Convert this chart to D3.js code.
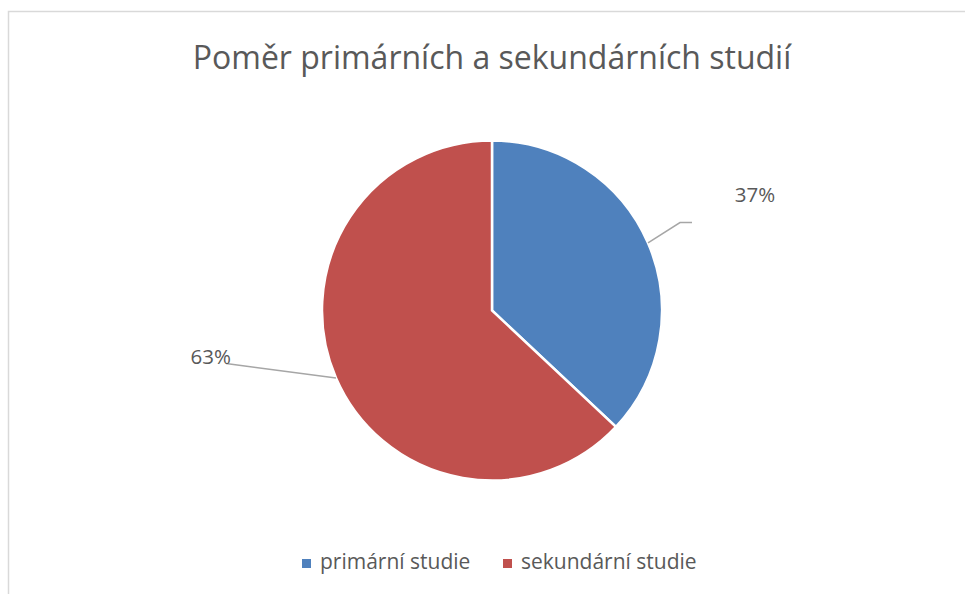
<!DOCTYPE html>
<meta charset="utf-8">
<head>
	<style>
		body { margin: 0; background: #fff; }
		text { font-family: "Open Sans", "Noto Sans", sans-serif; fill: #595959; }
		.leader { fill: none; stroke: #a6a6a6; stroke-width: 1.5; }
	</style>
	<script src="https://d3js.org/d3.v7.min.js"></script>
</head>
<body></body>
<script>

	var title = "Poměr primárních a sekundárních studií",
			categories = ["primární studie", "sekundární studie"],
			values = [37, 63],
			colors = ["#4f81bd", "#c0504d"];

	var width = 965,
			height = 594,
			cx = 492,
			cy = 310.5,
			radius = 170;

	var svg = d3.select("body").append("svg")
		.attr("width", width)
		.attr("height", height);

	// chart area frame (runs off the right and bottom edge)
	svg.append("rect")
		.attr("x", 8.5)
		.attr("y", 11.5)
		.attr("width", 1000)
		.attr("height", 700)
		.attr("fill", "#fff")
		.attr("stroke", "#d9d9d9")
		.attr("stroke-width", 1.5);

	svg.append("text")
		.attr("x", cx)
		.attr("y", 69)
		.attr("text-anchor", "middle")
		.style("font-size", "32px")
		.text(title);

	var pie = d3.pie().sort(null).value(function(d) {return d});
	var arc = d3.arc().innerRadius(0).outerRadius(radius);
	var arcs = pie(values);

	var g = svg.append("g")
		.attr("transform", "translate(" + cx + "," + cy + ")");

	g.selectAll("path")
		.data(arcs)
	  .enter().append("path")
		.attr("d", arc)
		.attr("fill", function(d, i) {return colors[i]})
		.attr("stroke", "#fff")
		.attr("stroke-width", 2.5);

	// leader lines: from the slice edge at mid-angle out to the label
	var leaderBends = [[[188, -88], [200, -88]], [[-266, 53]]],
			labelPos = [[263, -109, "middle"], [-261, 53, "end"]];

	arcs.forEach(function(d, i) {
		var mid = (d.startAngle + d.endAngle) / 2,
				start = [radius * Math.sin(mid), -radius * Math.cos(mid)],
				pts = [start].concat(leaderBends[i]);
		g.append("path")
			.attr("class", "leader")
			.attr("d", d3.line()(pts));
		g.append("text")
			.attr("x", labelPos[i][0])
			.attr("y", labelPos[i][1])
			.attr("text-anchor", labelPos[i][2])
			.style("font-size", "20.5px")
			.text(Math.round(d.value / d3.sum(values) * 100) + "%");
	});

	// legend
	var legendX = [302, 503];
	var legend = svg.selectAll(".legend")
		.data(categories)
	  .enter().append("g")
		.attr("transform", function(d, i) {return "translate(" + legendX[i] + ",569)"});

	legend.append("rect")
		.attr("y", -10)
		.attr("width", 9)
		.attr("height", 9)
		.attr("fill", function(d, i) {return colors[i]});

	legend.append("text")
		.attr("x", 18)
		.style("font-size", "21px")
		.text(function(d) {return d});

</script>
